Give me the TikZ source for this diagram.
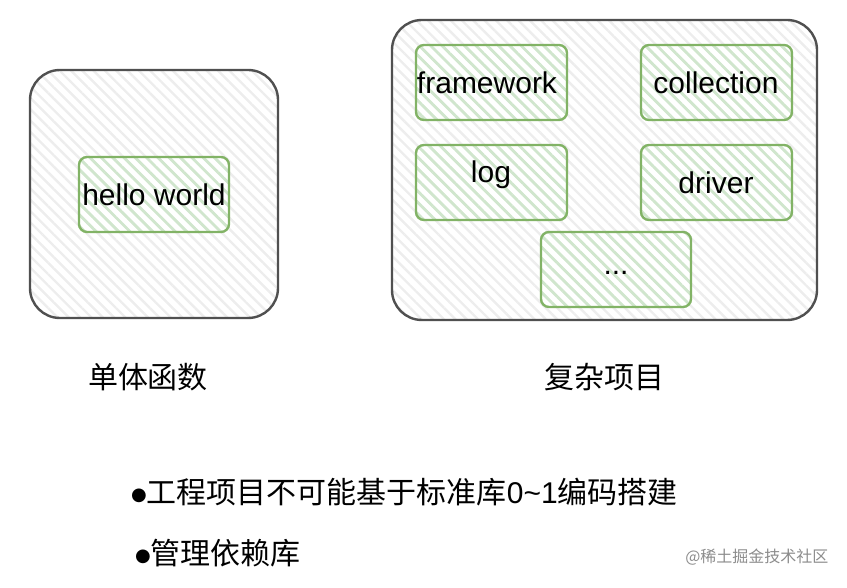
\documentclass[tikz,border=0pt]{standalone}
\usepackage{fontspec}
\setmainfont{Liberation Sans}
\newfontfamily\cjk{Noto Sans CJK SC}
\newfontfamily\symf{DejaVu Sans}
\usetikzlibrary{patterns.meta}
\definecolor{outerline}{HTML}{505050}
\definecolor{greenline}{HTML}{82B366}
\definecolor{greenhatch}{HTML}{D0E6CD}
\definecolor{greyhatch}{HTML}{EDEDED}
\tikzset{
  outerbox/.style={draw=outerline, line width=2.4pt, rounded corners=30pt,
    pattern={Lines[angle=-45,distance=8pt,line width=2.4pt]}, pattern color=greyhatch},
  innerbox/.style={draw=greenline, line width=2.4pt, rounded corners=8pt,
    pattern={Lines[angle=-45,distance=8pt,line width=2.8pt]}, pattern color=greenhatch},
  lbl/.style={font=\fontsize{30}{34}\selectfont, text=black},
  cjklbl/.style={font=\cjk\fontsize{30}{34}\selectfont, text=black, anchor=west},
}
\newcommand{\bul}{\raisebox{3pt}{\symf\fontsize{18}{20}\selectfont ●}}
\begin{document}
\begin{tikzpicture}[x=1pt,y=-1pt]
\useasboundingbox (0,0) rectangle (847,588);
% left
\draw[outerbox] (30,70) rectangle (278,318);
\draw[innerbox] (79,157) rectangle (229,232);
\node[lbl] (hw) at (154,195) {hello world};
% right
\draw[outerbox] (392,20) rectangle (817,320);
\draw[innerbox] (416,45) rectangle (567,120);
\draw[innerbox] (641,45) rectangle (792,120);
\draw[innerbox] (416,145) rectangle (567,220);
\draw[innerbox] (641,145) rectangle (792,220);
\draw[innerbox] (541,232) rectangle (691,307);
\node[lbl] (fw) at (487,83) {framework};
\node[lbl] (col) at (716,83) {collection};
\node[lbl] (log) at (491,175) {log};
\node[lbl] (drv) at (716,183) {driver};
\node[lbl] (dots) at (616,273) {...};
% captions
\node[font=\cjk\fontsize{30}{34}\selectfont] (c1) at (148,377) {单体函数};
\node[font=\cjk\fontsize{30}{34}\selectfont] (c2) at (604,377) {复杂项目};
% bullets
\node[cjklbl, inner sep=0pt] (b1) at (131,492) {\bul 工程项目不可能基于标准库{\fontspec{Liberation Sans}0\textasciitilde 1}编码搭建};
\node[cjklbl, inner sep=0pt] (b2) at (135,553) {\bul 管理依赖库};
% watermark
\node[font=\cjk\fontsize{16}{18}\selectfont, text=black!45, anchor=east] (wm) at (832,557) {@稀土掘金技术社区};
\end{tikzpicture}
\end{document}
